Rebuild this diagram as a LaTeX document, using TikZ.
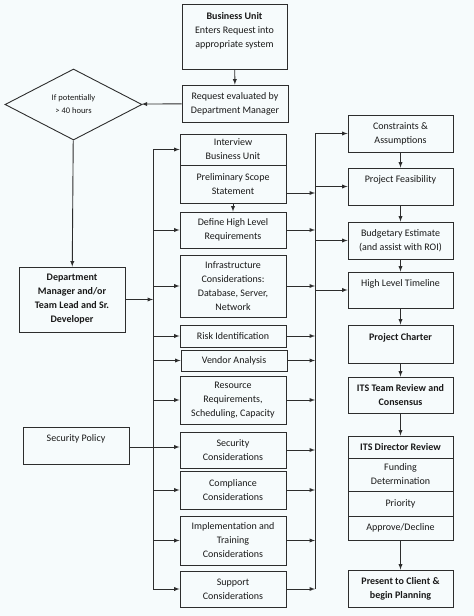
\documentclass[tikz,border=0pt]{standalone}
\usepackage{fontspec}
\setmainfont{Carlito}
\usetikzlibrary{arrows,calc,shapes.geometric}
\definecolor{bgc}{RGB}{246,251,252}
\definecolor{linec}{RGB}{45,45,45}
\tikzset{
  box/.style={draw=linec, line width=0.9pt, inner sep=0pt, align=center,
    font=\fontsize{10}{14}\selectfont, text=black!90},
  conn/.style={draw=linec, line width=0.9pt},
  arr/.style={conn, -latex},
}
\begin{document}
\begin{tikzpicture}[x=1pt,y=-1pt]

\fill[bgc] (0,0) rectangle (474,616);
\useasboundingbox (0,0) rectangle (474,616);

\node[box, minimum width=105, minimum height=65] (bu) at (234.5,36.5) {\textbf{Business Unit}\\Enters Request into\\appropriate system\\~};
\node[box, minimum width=106, minimum height=37] (req) at (235,103.5) {Request evaluated by\\Department Manager};
\node[box, diamond, aspect=1.93, minimum width=137, minimum height=71, font=\fontsize{8.5}{13}\selectfont] (dia) at (73.5,104.5) {If potentially\\> 40 hours};
\node[box, minimum width=106, minimum height=65] (dm) at (72,299.5) {\textbf{Department}\\\textbf{Manager and/or}\\\textbf{Team Lead and Sr.}\\\textbf{Developer}};
\node[box, minimum width=106, minimum height=37] (sp) at (76,445.5) {Security Policy\\~};

\node[box, minimum width=106, minimum height=31] (iv) at (233,149.5) {Interview\\Business Unit};
\node[box, minimum width=106, minimum height=38] (ps) at (233,184) {Preliminary Scope\\Statement};
\node[box, minimum width=106, minimum height=36] (def) at (233,230) {Define High Level\\Requirements};
\node[box, minimum width=106, minimum height=62] (inf) at (233,286) {Infrastructure\\Considerations:\\Database, Server,\\Network};
\node[box, minimum width=106, minimum height=22] (risk) at (233,336) {Risk Identification};
\node[box, minimum width=106, minimum height=21] (vend) at (234,360.5) {Vendor Analysis};
\node[box, minimum width=106, minimum height=48] (res) at (233,400) {Resource\\Requirements,\\Scheduling, Capacity};
\node[box, minimum width=106, minimum height=36] (sec) at (233,450) {Security\\Considerations};
\node[box, minimum width=106, minimum height=38] (comp) at (233,490) {Compliance\\Considerations};
\node[box, minimum width=106, minimum height=49] (impl) at (233,540.5) {Implementation and\\Training\\Considerations};
\node[box, minimum width=106, minimum height=36] (sup) at (233,589) {Support\\Considerations};

\node[box, minimum width=105, minimum height=37] (ca) at (400.5,133.5) {Constraints \&\\Assumptions};
\node[box, minimum width=105, minimum height=37] (pf) at (400.5,186.5) {Project Feasibility\\~};
\node[box, minimum width=105, minimum height=37] (be) at (400.5,240.5) {Budgetary Estimate\\(and assist with ROI)};
\node[box, minimum width=105, minimum height=36] (hl) at (400.5,290) {High Level Timeline\\~};
\node[box, minimum width=105, minimum height=38] (pc) at (400.5,344) {\textbf{Project Charter}\\~};
\node[box, minimum width=105, minimum height=36] (its) at (400.5,395) {\textbf{ITS Team Review and}\\\textbf{Consensus}};
\node[box, minimum width=105, minimum height=22] (dr) at (400.5,447) {\textbf{ITS Director Review}};
\node[box, minimum width=105, minimum height=33] (fd) at (400.5,474.5) {Funding\\Determination};
\node[box, minimum width=105, minimum height=25] (pr) at (400.5,503.5) {Priority};
\node[box, minimum width=105, minimum height=24] (ad) at (400.5,528) {Approve/Decline};
\node[box, minimum width=105, minimum height=37] (pcl) at (400.5,588.5) {\textbf{Present to Client \&}\\\textbf{begin Planning}};

\coordinate (lb) at (153,0);
\coordinate (rb) at (315,0);

\draw[arr] (bu) -- (req);
\draw[arr] (req) -- (dia);
\draw[arr] (dia) -- (dm);
\draw[arr] (ps) -- (def);
\draw[arr] (dm.east) -- (lb |- dm.east);
\draw[arr] ($(sp.east)+(0,1.5)$) -- (sec.west |- {$(sp.east)+(0,1.5)$});

\draw[conn] (lb |- iv.west) -- (lb |- sup.west);
\foreach \n in {iv,def,inf,risk,vend,res,comp,impl,sup}
  \draw[arr] (lb |- \n.west) -- (\n.west);

\draw[conn] (rb |- ca.west) -- (rb |- sup.east);
\foreach \n in {ca,pf,be,hl}
  \draw[arr] (rb |- \n.west) -- (\n.west);
\draw[arr] ($(ps.east)+(0,9)$) -- (rb |- {$(ps.east)+(0,9)$});
\foreach \n in {def,inf,risk,vend,res,sec,comp,impl,sup}
  \draw[arr] (\n.east) -- (rb |- \n.east);

\draw[arr] (ca) -- (pf);
\draw[arr] (pf) -- (be);
\draw[arr] (be) -- (hl);
\draw[arr] (hl) -- (pc);
\draw[arr] (pc) -- (its);
\draw[arr] (its) -- (dr);
\draw[arr] (ad) -- (pcl);
\end{tikzpicture}
\end{document}
